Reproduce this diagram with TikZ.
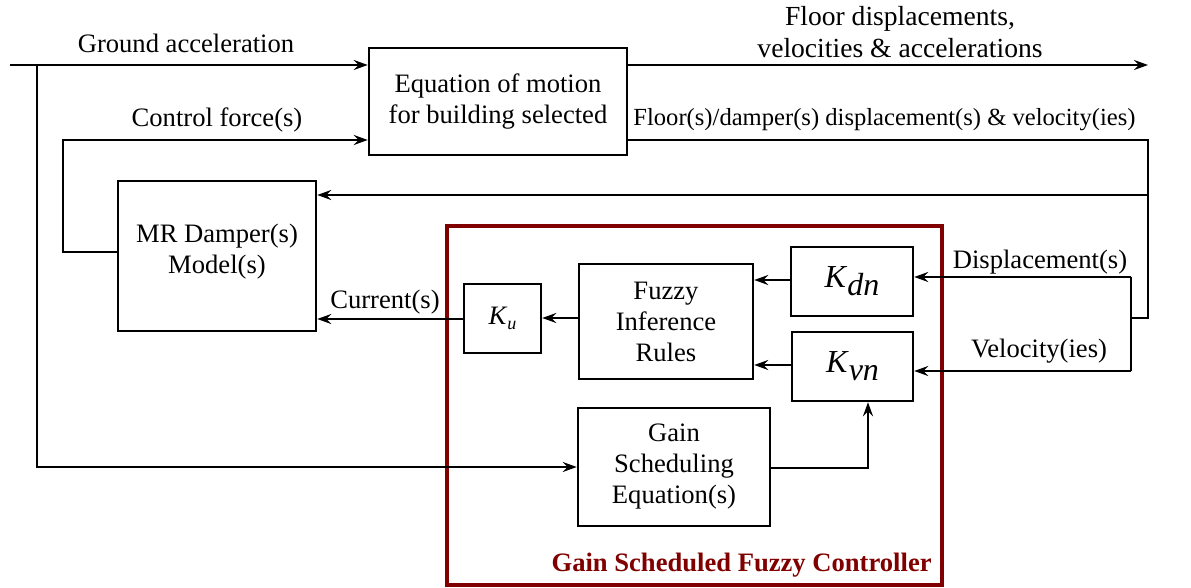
\documentclass[tikz,border=0pt]{standalone}
\usepackage{fontspec}
\setmainfont{Liberation Serif}
\usepackage{tikz}
\usetikzlibrary{arrows.meta, positioning, calc}
\definecolor{ctrlred}{RGB}{128,0,0}
\tikzstyle{block} = [
  rectangle, draw, line width=1.25pt, fill=white, inner sep=0pt,
  text centered, align=center
]
\tikzstyle{arrow} = [-{Stealth[length=7pt, width=5pt, inset=2.5pt]}, line width=1.25pt]
\tikzstyle{wire} = [line width=1.25pt]
\tikzstyle{lbl} = [inner sep=0pt, align=center]
\newcommand{\gain}[2]{\textit{K}\raisebox{-0.55ex}{\textit{#2}}}

\begin{document}
\begin{tikzpicture}[x=0.5pt, y=-0.5pt, font=\fontsize{13.3}{15.5}\selectfont]
  \useasboundingbox (0,0) rectangle (1191,588);

  % controller frame
  \draw[ctrlred, line width=1.6pt] (447,226) rectangle (942,585);
  \node[lbl, ctrlred, font=\fontsize{13.3}{15.5}\selectfont\bfseries, anchor=south east] (title) at (932,578) {Gain Scheduled Fuzzy Controller};

  % blocks
  \node[block, minimum width=129pt, minimum height=53.5pt] (eom) at (498,101.5) {Equation of motion\\for building selected};
  \node[block, minimum width=99pt, minimum height=75pt] (mr) at (217,256) {};
  \node[lbl] (mrtext) at (217,252) {MR Damper(s)\\Model(s)};
  \node[block, minimum width=38.5pt, minimum height=34.5pt] (ku) at (502.5,318.5) {\textit{K}\raisebox{-0.4ex}{\fontsize{9}{10}\selectfont\textit{u}}};
  \node[block, minimum width=87pt, minimum height=57.5pt] (fir) at (666,321.5) {Fuzzy\\Inference\\Rules};
  \node[block, minimum width=61pt, minimum height=34.5pt, font=\fontsize{16}{18}\selectfont] (kd) at (852,281.5) {\gain{K}{dn}};
  \node[block, minimum width=60.5pt, minimum height=34.5pt, font=\fontsize{16}{18}\selectfont] (kv) at (852.5,366.5) {\gain{K}{vn}};
  \node[block, minimum width=96pt, minimum height=59pt] (gs) at (674,467) {Gain\\Scheduling\\Equation(s)};

  % free ends and corners
  \coordinate (gin) at (10,65);
  \coordinate (gbr) at (37,65);
  \coordinate (out) at (1148,65);
  \coordinate (cf) at (63,140);
  \coordinate (fbtr) at (1148,140);
  \coordinate (fbbr) at (1148,318);
  \coordinate (sp) at (1131,318);

  % ground acceleration and outputs
  \draw[arrow] (gin) -- (gin -| eom.west);
  \draw[arrow] (gbr) |- (gs.west);
  \draw[arrow] (eom.east |- out) -- (out);

  % control force loop
  \draw[arrow] (mr.west |- 0,252) -| (cf) -- (cf -| eom.west);

  % feedback of response
  \draw[wire] (cf -| eom.east) -- (fbtr) -- (fbbr) -- (sp);
  \draw[arrow] (fbtr |- 0,195) -- (mr.east |- 0,195);
  \draw[wire] (sp |- 0,277) -- (sp |- 0,371);
  \draw[arrow] (sp |- 0,277) -- (kd.east |- 0,277);
  \draw[arrow] (sp |- 0,371) -- (kv.east |- 0,371);

  % inside the controller
  \draw[arrow] (kd.west |- 0,280) -- (fir.east |- 0,280);
  \draw[arrow] (kv.west |- 0,365) -- (fir.east |- 0,365);
  \draw[arrow] (fir.west |- 0,318) -- (ku.east |- 0,318);
  \draw[arrow] (ku.west |- 0,319) -- (mr.east |- 0,319);
  \draw[arrow] (gs.east |- 0,468) -| (kv.south -| 868,0);

  % labels
  \node[lbl] (lground) at (186,43) {Ground acceleration};
  \node[lbl, font=\fontsize{13.8}{16}\selectfont] (lout) at (900,32) {Floor displacements,\\velocities \& accelerations};
  \node[lbl] (lforce) at (217,120) {Control force(s)};
  \node[lbl, font=\fontsize{12.3}{14}\selectfont, anchor=west] (lfeed) at (633,120) {Floor(s)/damper(s) displacement(s) \& velocity(ies)};
  \node[lbl] (ldisp) at (1040,262) {Displacement(s)};
  \node[lbl] (lvel) at (1039,351) {Velocity(ies)};
  \node[lbl] (lcur) at (385,302) {Current(s)};

\end{tikzpicture}
\end{document}
